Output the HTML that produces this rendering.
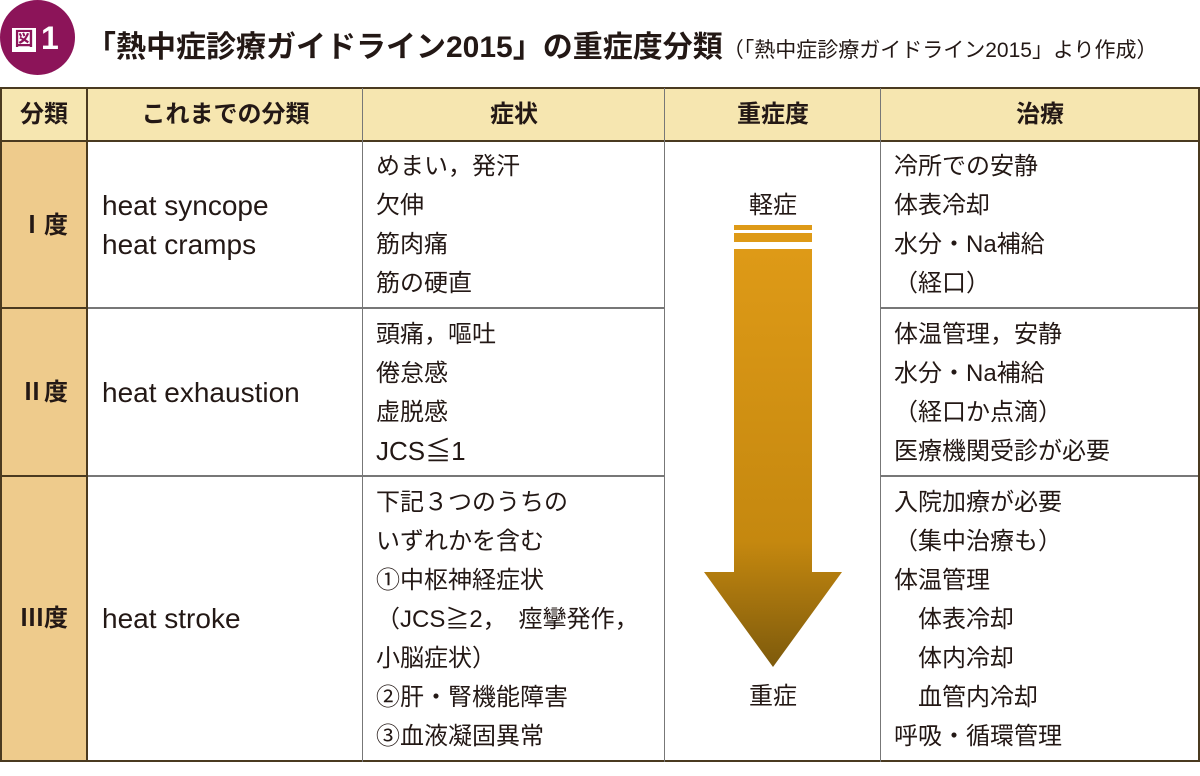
<!DOCTYPE html>
<html><head><meta charset="utf-8"><style>
*{margin:0;padding:0;box-sizing:border-box}
body{width:1200px;height:776px;background:#fff;position:relative;overflow:hidden;font-family:"Liberation Sans","Noto Sans CJK JP",sans-serif;color:#231815}
.a{position:absolute}
.c{position:absolute;font-size:24px;line-height:39px}
.l{font-size:28px}
.h{position:absolute;font-size:24px;font-weight:bold;text-align:center;line-height:52px;top:89px;height:52px}
.vl{position:absolute;top:88px;height:674px;width:2px;background:#4a3a20}
.gl{position:absolute;height:2px;background:#777}
</style></head><body>
<div class="a" style="left:0;top:0;width:75px;height:75px;border-radius:50%;background:#8c1459"></div>
<div class="a" style="left:12px;top:28px;width:24px;height:24px;background:#fff;color:#8c1459;font-size:19px;font-weight:bold;text-align:center;line-height:24px">図</div>
<div class="a" style="left:41px;top:20px;color:#fff;font-size:32px;font-weight:bold">1</div>
<div class="a" style="left:86px;top:22px;font-size:30px;font-weight:bold;white-space:nowrap">「熱中症診療ガイドライン2015」の重症度分類<span style="font-size:21px;font-weight:normal">（「熱中症診療ガイドライン2015」より作成）</span></div>

<div class="a" style="left:0;top:88px;width:1200px;height:53px;background:#f6e6b0"></div>
<div class="a" style="left:0;top:141px;width:88px;height:621px;background:#eecb8c"></div>
<div class="a" style="left:0;top:87px;width:1200px;height:2px;background:#4a3a20"></div>
<div class="a" style="left:0;top:140px;width:1200px;height:2px;background:#4a3a20"></div>
<div class="a" style="left:0;top:760px;width:1200px;height:2px;background:#4a3a20"></div>
<div class="a" style="left:0;top:307px;width:88px;height:2px;background:#4a3a20"></div>
<div class="a" style="left:0;top:475px;width:88px;height:2px;background:#4a3a20"></div>
<div class="gl" style="left:88px;top:307px;width:577px"></div>
<div class="gl" style="left:881px;top:307px;width:319px"></div>
<div class="gl" style="left:88px;top:475px;width:577px"></div>
<div class="gl" style="left:881px;top:475px;width:319px"></div>
<div class="vl" style="left:0"></div>
<div class="vl" style="left:86px"></div>
<div class="vl" style="left:362px;background:#777;width:1px"></div>
<div class="vl" style="left:664px;background:#777;width:1px"></div>
<div class="vl" style="left:880px;background:#777;width:1px"></div>
<div class="vl" style="left:1198px"></div>

<div class="h" style="left:0;width:88px">分類</div>
<div class="h" style="left:88px;width:275px">これまでの分類</div>
<div class="h" style="left:363px;width:302px">症状</div>
<div class="h" style="left:665px;width:216px">重症度</div>
<div class="h" style="left:881px;width:318px">治療</div>

<div class="c" style="left:0;width:88px;text-align:center;top:206px;font-weight:bold">Ⅰ度</div>
<div class="c" style="left:0;width:88px;text-align:center;top:373px;font-weight:bold">Ⅱ度</div>
<div class="c" style="left:0;width:88px;text-align:center;top:599px;font-weight:bold">Ⅲ度</div>

<div class="c l" style="left:102px;top:186px">heat syncope<br>heat cramps</div>
<div class="c l" style="left:102px;top:373px">heat exhaustion</div>
<div class="c l" style="left:102px;top:599px">heat stroke</div>

<div class="c" style="left:376px;top:147px">めまい，発汗<br>欠伸<br>筋肉痛<br>筋の硬直</div>
<div class="c" style="left:376px;top:315px">頭痛，嘔吐<br>倦怠感<br>虚脱感<br><span class="l" style="font-size:26px">JCS≦1</span></div>
<div class="c" style="left:376px;top:483px">下記３つのうちの<br>いずれかを含む<br>①中枢神経症状<br>（JCS≧2，　痙攣発作，<br>小脳症状）<br>②肝・腎機能障害<br>③血液凝固異常</div>

<div class="c" style="left:665px;width:216px;text-align:center;top:186px">軽症</div>
<div class="a" style="left:734px;top:225px;width:78px;height:5px;background:#de9a17"></div>
<div class="a" style="left:734px;top:233px;width:78px;height:9px;background:#de9a17"></div>
<svg class="a" style="left:700px;top:245px" width="150" height="425">
<defs><linearGradient id="g" x1="0" y1="0" x2="0" y2="1"><stop offset="0" stop-color="#de9a17"/><stop offset="0.7" stop-color="#c5880f"/><stop offset="1" stop-color="#7d5a0c"/></linearGradient></defs>
<polygon points="34,4 112,4 112,327 142,327 73,422 4,327 34,327" fill="url(#g)"/>
</svg>
<div class="c" style="left:665px;width:216px;text-align:center;top:677px">重症</div>

<div class="c" style="left:894px;top:147px">冷所での安静<br>体表冷却<br>水分・Na補給<br>（経口）</div>
<div class="c" style="left:894px;top:315px">体温管理，安静<br>水分・Na補給<br>（経口か点滴）<br>医療機関受診が必要</div>
<div class="c" style="left:894px;top:483px">入院加療が必要<br>（集中治療も）<br>体温管理<br>　体表冷却<br>　体内冷却<br>　血管内冷却<br>呼吸・循環管理</div>
</body></html>
